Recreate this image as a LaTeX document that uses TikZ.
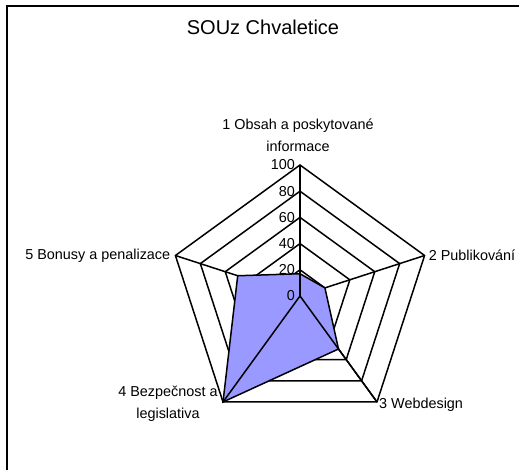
\documentclass[tikz,border=0pt]{standalone}
\usepackage{fontspec}
\setmainfont{Liberation Sans}
\usetikzlibrary{calc}
\definecolor{fillblue}{HTML}{9999FF}
\begin{document}
\begin{tikzpicture}[x=1pt,y=1pt,
  grid/.style={line width=1.5pt, line join=miter},
  frame/.style={line width=2pt},
  lbl/.style={font=\fontsize{14.4}{22.5}\selectfont, inner sep=0pt, align=center},
  tick/.style={font=\fontsize{14.4}{16}\selectfont, inner sep=0pt, anchor=east},
  ttl/.style={font=\fontsize{20}{24}\selectfont, inner sep=0pt}
]
\useasboundingbox (0,0) rectangle (519,470);
\fill[white] (0,0) rectangle (519,470);
% frame (right and bottom edges lie outside the picture)
\coordinate (fb) at (7,0);
\coordinate (ftl) at (7,464);
\coordinate (ftr) at (519,464);
\draw[frame] (fb) -- (ftl) -- (ftr);
% chart geometry
\coordinate (C) at (300,174);
\def\R{131}
\foreach \i/\a in {1/90,2/18,3/-54,4/-126,5/162} {\coordinate (v\i) at ($(C)+(\a:\R)$);}
% rings
\foreach \f in {0.2,0.4,0.6,0.8,1} {
  \draw[grid] ($(C)!\f!(v1)$) -- ($(C)!\f!(v2)$) -- ($(C)!\f!(v3)$) -- ($(C)!\f!(v4)$) -- ($(C)!\f!(v5)$) -- cycle;
}
% spokes
\foreach \i in {1,...,5} {\draw[grid] (C) -- (v\i);}
% data
\coordinate (d1) at ($(C)!0.17!(v1)$);
\coordinate (d2) at ($(C)!0.20!(v2)$);
\coordinate (d3) at ($(C)!0.50!(v3)$);
\coordinate (d4) at ($(C)!1.00!(v4)$);
\coordinate (d5) at ($(C)!0.50!(v5)$);
\filldraw[grid, fill=fillblue, draw=black] (d1) -- (d2) -- (d3) -- (d4) -- (d5) -- cycle;
\draw[grid] (C) -- (v1);
\draw[grid] (C) -- (v3);
\draw[grid] (C) -- (v4);
% tick labels
\foreach \v in {0,20,40,60,80,100} {\node[tick] (t\v) at ($(C)+(-5,{\v*1.31})$) {\v};}
% axis labels
\node[lbl] (L1) at (298,334.5) {1 Obsah a poskytované\\informace};
\node[lbl, anchor=west] (L2) at ($(v2)+(4,0)$) {2 Publikování};
\node[lbl, anchor=west] (L3) at ($(v3)+(2,-3)$) {3 Webdesign};
\node[lbl] (L4) at (168,66) {4 Bezpečnost a\\legislativa};
\node[lbl, anchor=east] (L5) at ($(v5)+(-5,0)$) {5 Bonusy a penalizace};
% title
\node[ttl] (title) at (263,443) {SOUz Chvaletice};
\end{tikzpicture}
\end{document}
